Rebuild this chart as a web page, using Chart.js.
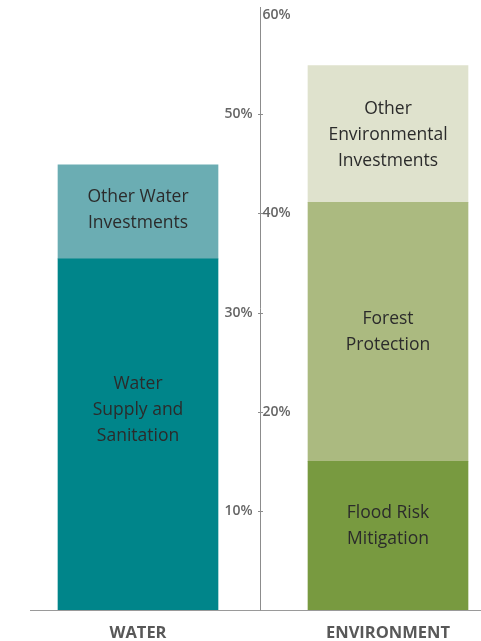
<!DOCTYPE html>
<html>
<head>
<meta charset="utf-8">
<script src="https://cdn.jsdelivr.net/npm/chart.js@4.4.1/dist/chart.umd.min.js"></script>
<style>
  html, body { margin: 0; padding: 0; background: #fff; }
  #wrap { position: relative; width: 481px; height: 641px; }
</style>
</head>
<body>
<div id="wrap"><canvas id="investChart"></canvas></div>
<script>
const categories = ["WATER", "ENVIRONMENT"];

const waterSupply = [35.4, null];
const otherWater = [9.5, null];
const floodRisk = [null, 15.0];
const forest = [null, 26.1];
const otherEnv = [null, 13.8];

const tickValues = [10, 20, 30, 40, 50, 60];

const segmentNames = [
  ["Water", "Supply and", "Sanitation"],
  ["Other Water", "Investments"],
  ["Flood Risk", "Mitigation"],
  ["Forest", "Protection"],
  ["Other", "Environmental", "Investments"]
];
// nudge some labels up from the middle of their block
const labelShift = [-24, -2, -10, 0, 1];

const FONT = "'Open Sans', sans-serif";

// axis line, alternating tick labels, baseline, category names and block labels
const decorations = {
  id: "decorations",
  afterDatasetsDraw(chart) {
    const ctx = chart.ctx;
    const x = chart.scales.x;
    const y = chart.scales.y;
    // axis sits a little left of the gap's middle
    const axisX = Math.round((x.getPixelForValue(0) + x.getPixelForValue(1)) / 2) - 3 + 0.5;
    const base = Math.round(y.getPixelForValue(0)) + 0.5;

    ctx.save();
    // baseline
    ctx.strokeStyle = "#9a9a9a";
    ctx.lineWidth = 1;
    ctx.beginPath();
    ctx.moveTo(30, base);
    ctx.lineTo(chart.width, base);
    ctx.stroke();

    // vertical axis
    ctx.strokeStyle = "#8c8c8c";
    ctx.beginPath();
    ctx.moveTo(axisX, 7);
    ctx.lineTo(axisX, base);
    ctx.stroke();

    ctx.font = "600 14px " + FONT;
    ctx.fillStyle = "#666";
    ctx.textBaseline = "middle";
    tickValues.forEach((v, i) => {
      const py = Math.round(y.getPixelForValue(v)) + 0.5;
      if (v < 60) {
        ctx.beginPath();
        ctx.moveTo(axisX - 2.5, py);
        ctx.lineTo(axisX + 2.5, py);
        ctx.stroke();
      }
      if (i % 2 === 0) {
        ctx.textAlign = "right";
        ctx.fillText(v + "%", axisX - 8, py);
      } else {
        ctx.textAlign = "left";
        ctx.fillText(v + "%", axisX + 2, py);
      }
    });

    // category names
    ctx.font = "bold 16.5px " + FONT;
    ctx.fillStyle = "#585858";
    ctx.textAlign = "center";
    categories.forEach((c, i) => {
      ctx.fillText(c, x.getPixelForValue(i), 633);
    });

    // labels inside each block
    ctx.font = "17.5px " + FONT;
    ctx.fillStyle = "#2b2b2b";
    chart.data.datasets.forEach((ds, di) => {
      const meta = chart.getDatasetMeta(di);
      meta.data.forEach((bar, bi) => {
        if (ds.data[bi] == null) return;
        const mid = (bar.y + bar.base) / 2 + labelShift[di];
        const lines = segmentNames[di];
        const lh = 26;
        lines.forEach((t, li) => {
          ctx.fillText(t, bar.x, mid + (li - (lines.length - 1) / 2) * lh);
        });
      });
    });
    ctx.restore();
  }
};

const mk = (label, data, color) => ({
  label: label,
  data: data,
  backgroundColor: color,
  borderWidth: 0,
  barThickness: 160,
  clip: false
});

new Chart(document.getElementById("investChart"), {
  type: "bar",
  data: {
    labels: categories,
    datasets: [
      mk("Water Supply and Sanitation", waterSupply, "#00858a"),
      mk("Other Water Investments", otherWater, "#6badb3"),
      mk("Flood Risk Mitigation", floodRisk, "#789a40"),
      mk("Forest Protection", forest, "#abba80"),
      mk("Other Environmental Investments", otherEnv, "#dfe2cd")
    ]
  },
  options: {
    responsive: true,
    maintainAspectRatio: false,
    animation: false,
    layout: { padding: { top: 15, bottom: 31, left: 138, right: 93 } },
    plugins: { legend: { display: false }, tooltip: { enabled: false } },
    scales: {
      x: { stacked: true, display: false, offset: false },
      y: { stacked: true, display: false, min: 0, max: 60 }
    }
  },
  plugins: [decorations]
});
</script>
</body>
</html>
